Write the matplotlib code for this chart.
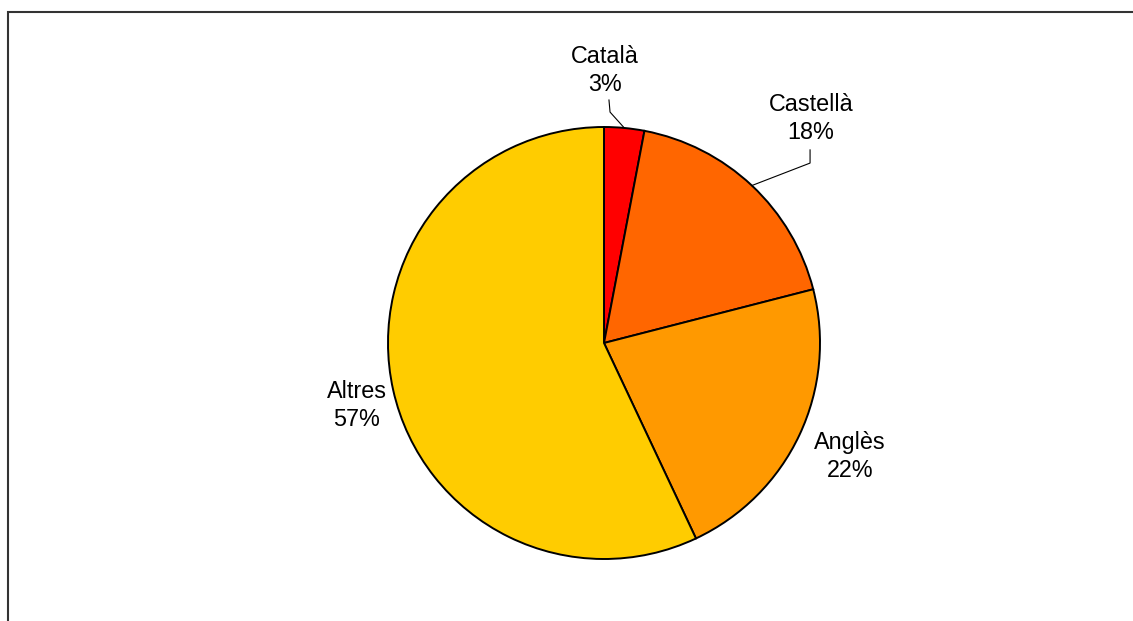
import numpy as np
import matplotlib
matplotlib.use("Agg")
import matplotlib.pyplot as plt
from matplotlib.patches import Rectangle

plt.rcParams["font.family"] = ["Liberation Sans", "DejaVu Sans"]

# Language share
languages = ["Català", "Castellà", "Anglès", "Altres"]
shares = [3, 18, 22, 57]
colors = ["#FF0000", "#FF6600", "#FF9900", "#FFCC00"]

W, H = 1133, 621
CX, CY, R = 604, 343, 216  # pie centre and radius in pixels

fig = plt.figure(figsize=(W / 100, H / 100), dpi=100)
ax = fig.add_axes([0, 0, 1, 1])
ax.axis("off")

wedges, _ = ax.pie(
    shares,
    colors=colors,
    startangle=90,
    counterclock=False,
    radius=1.0,
    wedgeprops=dict(edgecolor="black", linewidth=1.4),
)
ax.set_aspect("auto")
ax.set_xlim(-CX / R, (W - CX) / R)
ax.set_ylim(-(H - CY) / R, CY / R)

# label centre positions, and optional leader elbows
label_pos = {
    "Català": (0.005, 1.262),
    "Castellà": (0.958, 1.040),
    "Anglès": (1.139, -0.525),
    "Altres": (-1.144, -0.290),
}
leaders = {
    "Català": [(0.028, 1.069), (0.023, 1.125)],
    "Castellà": [(0.954, 0.833), (0.954, 0.894)],
}

for wedge, name, share in zip(wedges, languages, shares):
    x, y = label_pos[name]
    ax.text(x, y, f"{name}\n{share}%", ha="center", va="center",
            fontsize=16.8, linespacing=1.28)
    if name in leaders:
        mid = np.deg2rad((wedge.theta1 + wedge.theta2) / 2)
        pts = [(np.cos(mid), np.sin(mid))] + leaders[name]
        xs, ys = zip(*pts)
        ax.plot(xs, ys, color="black", linewidth=0.8)

# outer chart-area frame
fig.patches.append(Rectangle((8 / W, -0.1), 1.2, 1 - 12 / H + 0.1,
                             transform=fig.transFigure, fill=False,
                             edgecolor="#333333", linewidth=1.5))

fig.savefig("out.png", dpi=100)
